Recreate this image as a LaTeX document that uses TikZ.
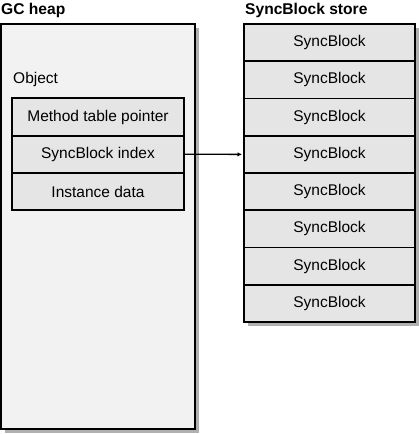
\documentclass[tikz,border=0pt]{standalone}
\usepackage{fontspec}
\setmainfont{Liberation Sans}
\usetikzlibrary{positioning,arrows.meta,shadows}

\definecolor{heapfill}{RGB}{242,242,242}
\definecolor{cellfill}{RGB}{229,229,229}
\definecolor{shadegray}{RGB}{176,176,176}

\tikzset{
  boxshadow/.style={drop shadow={shadow xshift=4pt, shadow yshift=-4pt, fill=shadegray, opacity=1}},
  heapbox/.style={draw, line width=1.8pt, fill=heapfill, boxshadow,
    minimum width=194pt, minimum height=405pt, inner sep=0pt, outer sep=0pt},
  cell/.style={draw, line width=1.8pt, fill=cellfill, inner sep=0pt, outer sep=0pt,
    minimum height=37.25pt, font=\fontsize{15.5}{17}\selectfont},
  objcell/.style={cell, minimum width=172pt},
  storecell/.style={cell, minimum width=171pt, boxshadow},
  title/.style={font=\fontsize{15.6}{17}\selectfont\bfseries, inner sep=0pt, anchor=west},
  label/.style={font=\fontsize{15.5}{17}\selectfont, inner sep=0pt, anchor=west}
}

\begin{document}
\begin{tikzpicture}[x=1pt, y=-1pt]
  \useasboundingbox (0,0) rectangle (419,434);

  % GC heap with the object
  \node[heapbox] (heap) at (98,226.5) {};
  \node[title] (heaptitle) at (1,10) {GC heap};
  \node[label] (objlabel) at (13,79.5) {Object};
  \node[objcell] (mtp) at (98,117) {Method table pointer};
  \node[objcell, below=0pt of mtp] (sbi) {SyncBlock index};
  \node[objcell, below=0pt of sbi] (inst) {Instance data};

  % SyncBlock store
  \node[title] (storetitle) at (245,10) {SyncBlock store};
  \foreach \i in {1,...,8}
    \node[storecell] (sb\i) at (329.5,{24+37.25*(\i-0.5)}) {SyncBlock};

  % index points into the store
  \draw[line width=1.3pt, -{Latex[length=4.5pt,width=4.5pt]}] (sbi.east) -- ([xshift=-2pt]sb4.west);
\end{tikzpicture}
\end{document}
